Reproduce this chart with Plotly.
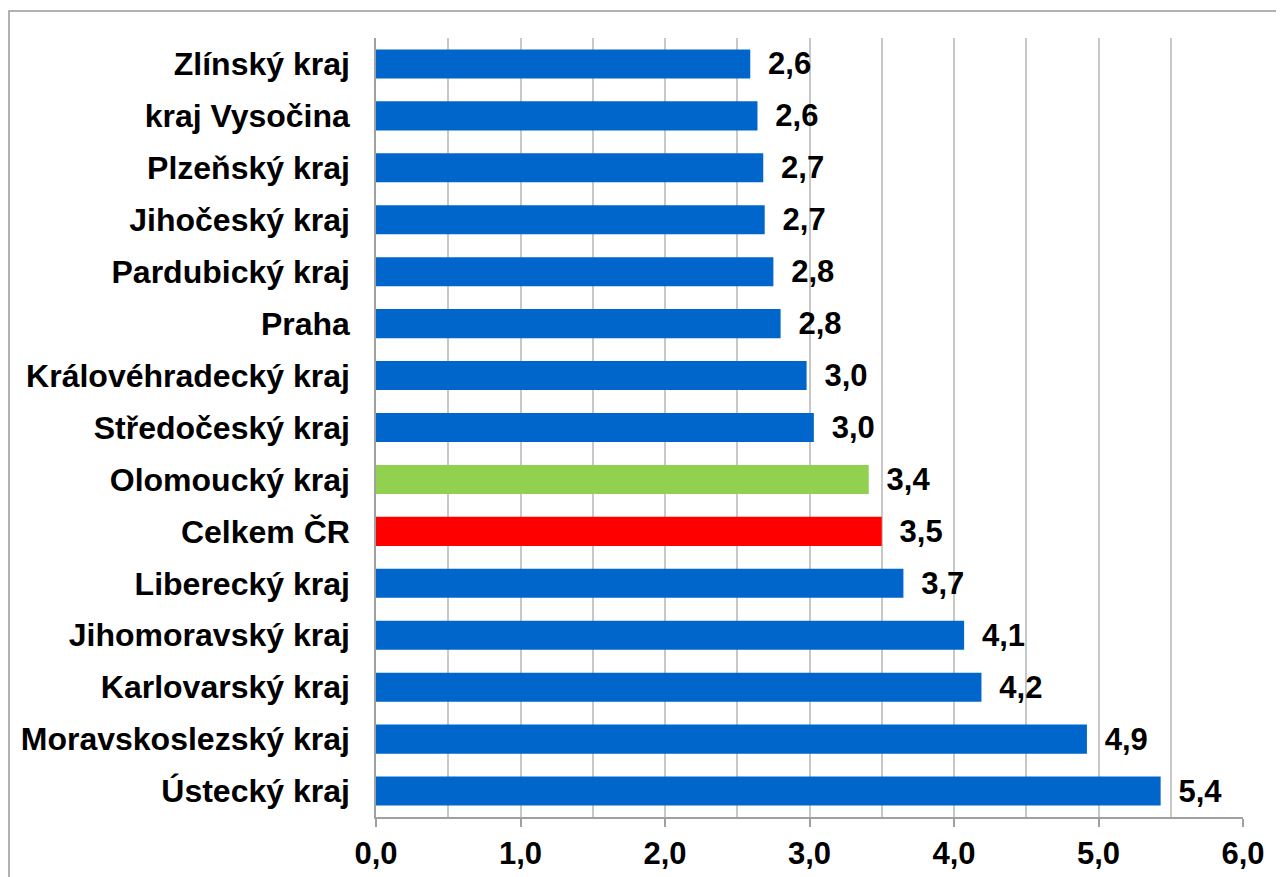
import plotly.graph_objects as go

regions = ["Zlínský kraj", "kraj Vysočina", "Plzeňský kraj", "Jihočeský kraj",
           "Pardubický kraj", "Praha", "Královéhradecký kraj", "Středočeský kraj",
           "Olomoucký kraj", "Celkem ČR", "Liberecký kraj", "Jihomoravský kraj",
           "Karlovarský kraj", "Moravskoslezský kraj", "Ústecký kraj"]
values = [2.59, 2.64, 2.68, 2.69, 2.75, 2.80, 2.98, 3.03,
          3.41, 3.50, 3.65, 4.07, 4.19, 4.92, 5.43]
labels = ["2,6", "2,6", "2,7", "2,7", "2,8", "2,8", "3,0", "3,0",
          "3,4", "3,5", "3,7", "4,1", "4,2", "4,9", "5,4"]
tick_vals = [0, 1, 2, 3, 4, 5, 6]
tick_text = ["0,0", "1,0", "2,0", "3,0", "4,0", "5,0", "6,0"]

BLUE, GREEN, RED = "#0066CC", "#92D050", "#FF0000"
colors = [GREEN if r == "Olomoucký kraj" else RED if r == "Celkem ČR" else BLUE for r in regions]

FONT = "Liberation Sans, Arial, sans-serif"

fig = go.Figure(go.Bar(
    y=regions, x=values, orientation="h",
    marker=dict(color=colors, line=dict(width=0)),
    text=[" \u2009" + t for t in labels], textposition="outside",
    textfont=dict(family=FONT, size=31, color="black", weight="bold"),
    constraintext="none",
    cliponaxis=False,
))

fig.update_layout(
    width=1284, height=877,
    margin=dict(l=368, r=49, t=30, b=68, autoexpand=False),
    paper_bgcolor="white", plot_bgcolor="white",
    bargap=0.44, showlegend=False,
    font=dict(family=FONT, color="black"),
    xaxis=dict(range=[0, 6], tickvals=tick_vals, ticktext=tick_text,
               tickfont=dict(family=FONT, size=31, color="black", weight="bold"),
               showgrid=True, gridcolor="#c8c8c8", gridwidth=1.5,
               minor=dict(dtick=0.5, showgrid=True, gridcolor="#c8c8c8", gridwidth=1.5),
               ticks="outside", ticklen=8, tickcolor="#a0a0a0", tickwidth=1.5,
               showline=True, linecolor="#a0a0a0", linewidth=1.5,
               zeroline=False, automargin=False),
    yaxis=dict(autorange="reversed", showgrid=False,
               tickfont=dict(family=FONT, size=32, color="black", weight="bold"),
               ticks="", ticklabelstandoff=18, automargin=False,
               showline=True, linecolor="#a0a0a0", linewidth=1.5),
    shapes=[dict(type="rect", xref="paper", yref="paper",
                 x0=-0.4233, x1=1.06, y0=-0.1, y1=1.0347,
                 line=dict(color="#999999", width=1.5), fillcolor="rgba(0,0,0,0)",
                 layer="below")],
)

fig.write_html("out.html")
